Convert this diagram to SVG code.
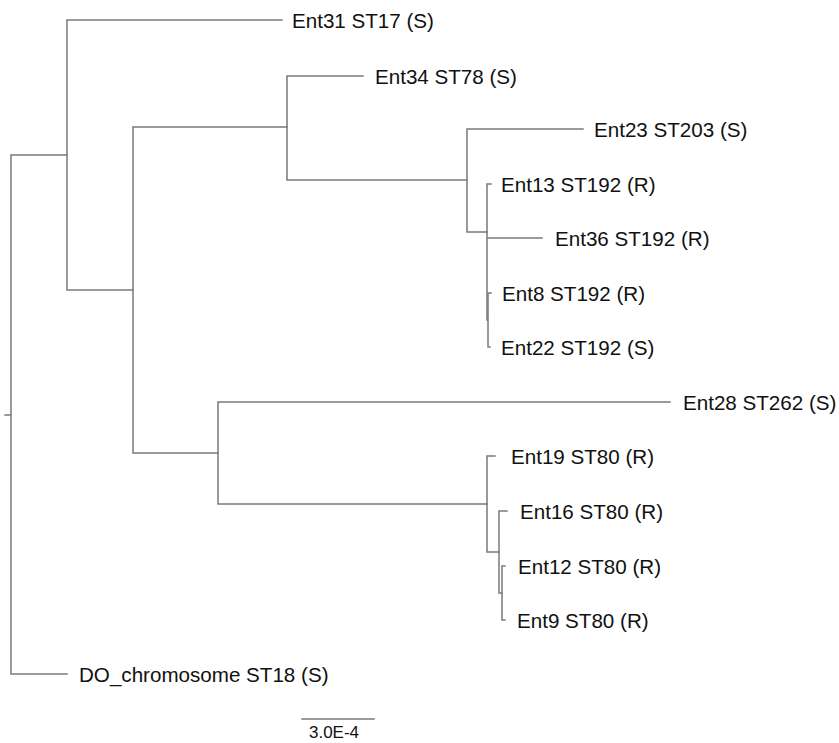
<svg xmlns="http://www.w3.org/2000/svg" width="839" height="743" viewBox="0 0 839 743">
<style>
.br{fill:none;stroke:#7a7a7a;stroke-width:1.5;stroke-linecap:square}
.lb{font-family:"Liberation Sans",Arial,sans-serif;font-size:20.6px;fill:#111}
.sc{font-family:"Liberation Sans",Arial,sans-serif;font-size:17px;fill:#111}
</style>
<rect width="839" height="743" fill="#fff"/>
<g id="connectors">
<path class="br" d="M5,415H11M11,155V674M11,155H67M11,674H67"/>
<path class="br" d="M67,20V290M67,20H282M67,290H133"/>
<path class="br" d="M133,127V453M133,127H287M133,453H218"/>
<path class="br" d="M287,76V180M287,76H363M287,180H467"/>
<path class="br" d="M467,129V232M467,129H583M467,232H487"/>
<path class="br" d="M487,184V320M487,184H491M487,238H542M487,320H488"/>
<path class="br" d="M488,293V347M488,293H491M488,347H490"/>
<path class="br" d="M218,402V504M218,402H670M218,504H487"/>
<path class="br" d="M487,456V552M487,456H495M487,552H499"/>
<path class="br" d="M499,511V593M499,511H507M499,593H502"/>
<path class="br" d="M502,566V620M502,566H505M502,620H505"/>
</g>
<g id="Ent31"><text class="lb" x="292" y="27.5">Ent31 ST17 (S)</text></g>
<g id="Ent34"><text class="lb" x="375" y="83.5">Ent34 ST78 (S)</text></g>
<g id="Ent23"><text class="lb" x="594" y="136.5">Ent23 ST203 (S)</text></g>
<g id="Ent13"><text class="lb" x="501" y="191.5">Ent13 ST192 (R)</text></g>
<g id="Ent36"><text class="lb" x="555" y="245.5">Ent36 ST192 (R)</text></g>
<g id="Ent8"><text class="lb" x="502" y="300.5">Ent8 ST192 (R)</text></g>
<g id="Ent22"><text class="lb" x="501" y="354.5">Ent22 ST192 (S)</text></g>
<g id="Ent28"><text class="lb" x="683" y="409.5">Ent28 ST262 (S)</text></g>
<g id="Ent19"><text class="lb" x="511" y="463.5">Ent19 ST80 (R)</text></g>
<g id="Ent16"><text class="lb" x="520" y="518.5">Ent16 ST80 (R)</text></g>
<g id="Ent12"><text class="lb" x="518" y="573.5">Ent12 ST80 (R)</text></g>
<g id="Ent9"><text class="lb" x="517" y="627.5">Ent9 ST80 (R)</text></g>
<g id="DO_chromosome"><text class="lb" x="79" y="681.5">DO_chromosome ST18 (S)</text></g>
<g id="scale">
<path class="br" d="M302,719H374"/>
<text class="sc" x="334" y="738" text-anchor="middle">3.0E-4</text>
</g>
</svg>
